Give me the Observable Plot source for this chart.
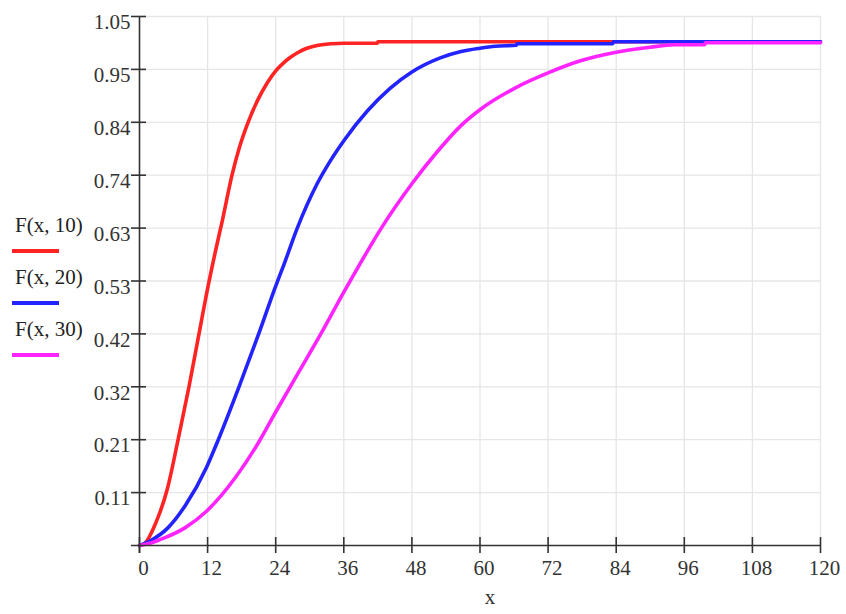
<!DOCTYPE html>
<html><head><meta charset="utf-8">
<script src="https://cdn.jsdelivr.net/npm/d3@7"></script>
<script src="https://cdn.jsdelivr.net/npm/@observablehq/plot@0.6"></script>
<style>
body{margin:0;background:#fff;}
#wrap{position:relative;width:846px;height:614px;font-family:"Liberation Serif","Times New Roman",serif;}
.leg{position:absolute;left:15px;font-size:21px;line-height:21px;color:#222;white-space:nowrap;}
.sw{position:absolute;left:12px;width:47px;height:4px;}
</style></head><body><div id="wrap"></div>
<script>
// ---- data ----
const xTicks = [0, 12, 24, 36, 48, 60, 72, 84, 96, 108, 120];
const yTicks = [0.105, 0.21, 0.315, 0.42, 0.525, 0.63, 0.735, 0.84, 0.945, 1.05];
const yTickLabels = ["0.11", "0.21", "0.32", "0.42", "0.53", "0.63", "0.74", "0.84", "0.95", "1.05"];
const seriesNames = ["F(x, 10)", "F(x, 20)", "F(x, 30)"];
const seriesColors = ["#ff2323", "#2323ff", "#ff23ff"];
const xLabel = "x";

const redX = [0, 1, 2.8, 4.9, 6.8, 8.7, 10.4, 12, 13.5, 14.6, 16.3, 17.6, 19, 21, 22.5, 24, 25.3, 26.6, 28, 29.5, 31.5, 33.7, 36, 41.9, 42, 120];
const redY = [0, 0.005, 0.043, 0.112, 0.21, 0.314, 0.415, 0.51, 0.59, 0.645, 0.735, 0.79, 0.836, 0.888, 0.918, 0.942, 0.957, 0.969, 0.979, 0.987, 0.993, 0.996, 0.997, 0.997, 1.0, 1.0];

const blueX = [0, 2, 5, 8.1, 11.8, 13.7, 17.5, 21, 24, 25.4, 27.8, 31.3, 33.6, 36.1, 40.1, 44.2, 48, 53, 56.5, 60, 62.7, 66.4, 66.5, 83.4, 83.5, 120];
const blueY = [0, 0.01, 0.035, 0.08, 0.155, 0.205, 0.314, 0.42, 0.515, 0.556, 0.63, 0.718, 0.763, 0.805, 0.862, 0.908, 0.94, 0.968, 0.98, 0.987, 0.991, 0.993, 0.996, 0.996, 1.0, 1.0];

const magX = [0, 2, 4.6, 8, 11.8, 16.9, 21, 24, 28.1, 32.2, 36.1, 38.9, 42.5, 48, 52.5, 56.6, 60.1, 66, 72.2, 77.7, 84, 90, 94.2, 99.6, 99.7, 120];
const magY = [0, 0.005, 0.016, 0.035, 0.068, 0.135, 0.205, 0.265, 0.345, 0.425, 0.505, 0.56, 0.628, 0.718, 0.782, 0.833, 0.866, 0.907, 0.939, 0.962, 0.979, 0.989, 0.994, 0.994, 0.998, 0.998];

// ---- build ----
const toRows = (xs, ys) => xs.map((x, i) => ({x, y: ys[i]}));
const series = [toRows(redX, redY), toRows(blueX, blueY), toRows(magX, magY)];
const labelOf = new Map(yTicks.map((t, i) => [t, yTickLabels[i]]));

const gridColor = "#e6e6e6";
const axisColor = "#333";

const chart = Plot.plot({
  width: 846,
  height: 614,
  marginLeft: 139,
  marginRight: 26,
  marginTop: 16,
  marginBottom: 69,
  x: {domain: [0, 120]},
  y: {domain: [0, 1.05]},
  style: {fontFamily: "'Liberation Serif','Times New Roman',serif", fontSize: "21px", color: axisColor, background: "#fff"},
  marks: [
    Plot.ruleX(xTicks.slice(1), {y1: 0, y2: 1.05, stroke: gridColor, strokeWidth: 1.3}),
    Plot.ruleY(yTicks, {x1: 0, x2: 120, stroke: gridColor, strokeWidth: 1.3}),
    ...series.map((rows, i) => Plot.line(rows, {x: "x", y: "y", stroke: seriesColors[i], strokeWidth: 3.6, curve: "monotone-x"})),
    // axis lines
    Plot.ruleY([0], {x1: 0, x2: 120, insetLeft: -8, stroke: axisColor, strokeWidth: 1.6}),
    Plot.ruleX([0], {y1: 0, y2: 1.05, insetTop: 8, stroke: axisColor, strokeWidth: 1.6}),
    // crossing tick marks
    Plot.ruleX(xTicks, {y1: 0, y2: 0, insetTop: -8, insetBottom: -8, stroke: axisColor, strokeWidth: 1.6}),
    Plot.ruleY(yTicks, {x1: 0, x2: 0, insetLeft: -8, insetRight: -7, stroke: axisColor, strokeWidth: 1.6}),
    // tick labels
    Plot.axisX({ticks: xTicks, tickSize: 0, tickPadding: 15, dx: 4, label: null, tickFormat: d => String(d)}),
    Plot.axisY({ticks: yTicks, tickSize: 0, tickPadding: 9, dy: 6, label: null, tickFormat: d => labelOf.get(d)}),
    Plot.text([xLabel], {frameAnchor: "bottom", dx: 10, dy: 58, text: d => d, fontSize: 21})
  ]
});

const wrap = document.getElementById("wrap");
wrap.appendChild(chart);

const legTops = [215, 267, 319];
const swTops = [249, 301, 353];
seriesNames.forEach((name, i) => {
  const t = document.createElement("div");
  t.className = "leg";
  t.style.top = legTops[i] + "px";
  t.textContent = name;
  wrap.appendChild(t);
  const s = document.createElement("div");
  s.className = "sw";
  s.style.top = swTops[i] + "px";
  s.style.background = seriesColors[i];
  wrap.appendChild(s);
});
</script>
</body></html>
